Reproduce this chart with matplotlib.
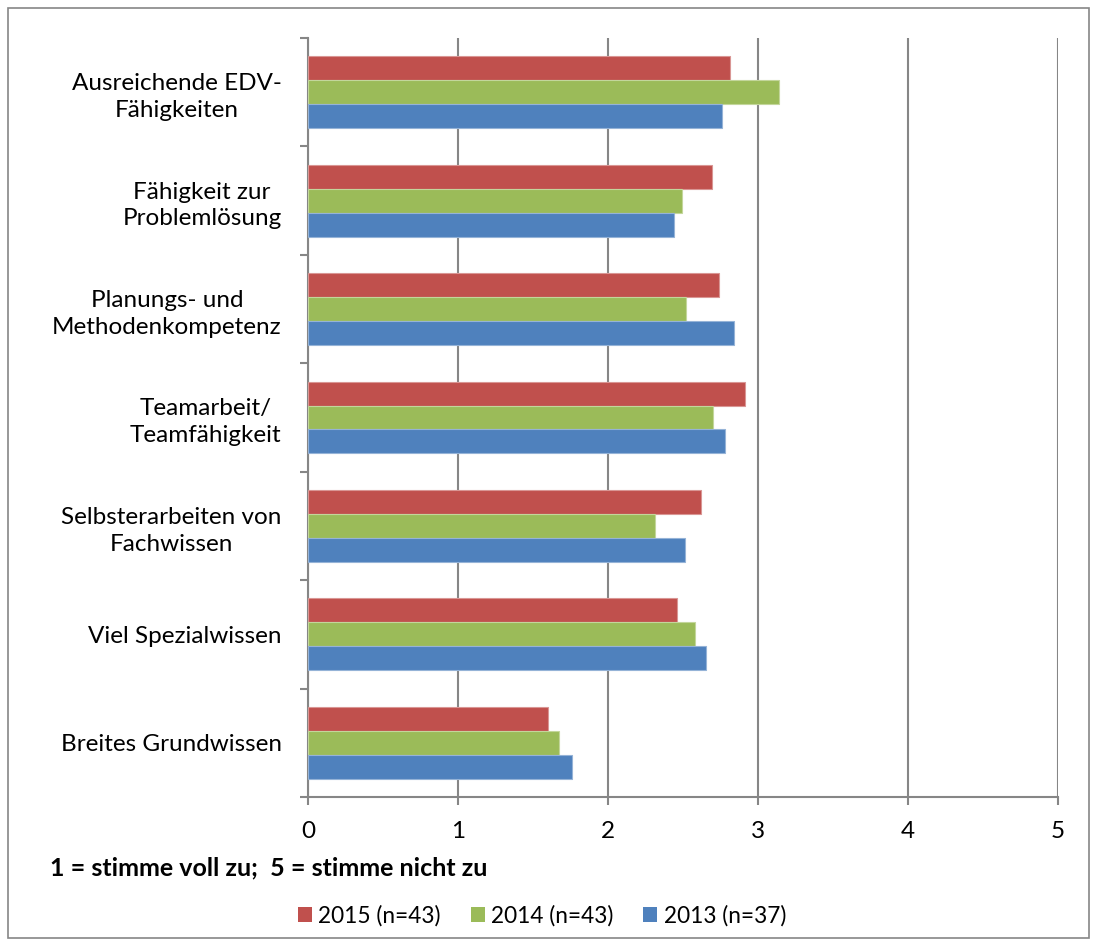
import matplotlib
matplotlib.use("Agg")
import matplotlib.pyplot as plt
from matplotlib.patches import Rectangle, Patch
import numpy as np

plt.rcParams['font.family'] = ['Lato', 'DejaVu Sans']

categories = ["Breites Grundwissen", "Viel Spezialwissen",
              "Selbsterarbeiten von\nFachwissen", "Teamarbeit/\nTeamfähigkeit",
              "Planungs- und\nMethodenkompetenz", "Fähigkeit zur\nProblemlösung",
              "Ausreichende EDV-\nFähigkeiten"]
values_2015 = [1.60, 2.46, 2.62, 2.91, 2.74, 2.69, 2.81]
values_2014 = [1.67, 2.58, 2.31, 2.70, 2.52, 2.49, 3.14]
values_2013 = [1.76, 2.65, 2.51, 2.78, 2.84, 2.44, 2.76]
series_labels = ["2015 (n=43)", "2014 (n=43)", "2013 (n=37)"]
colors = ["#C0504D", "#9BBB59", "#4F81BD"]
edge_colors = ["#D99694", "#C3D69B", "#95B3D7"]
x_ticks = [0, 1, 2, 3, 4, 5]
note = "1 = stimme voll zu;  5 = stimme nicht zu"

FS = 17.5

fig = plt.figure(figsize=(10.97, 9.46), dpi=100)
ax = fig.add_axes([308/1097, 149/946, 750/1097, 759/946])

y = np.arange(len(categories))
h = 0.221
series = [values_2015, values_2014, values_2013]
offsets = [h, 0, -h]
handles = []
for vals, off, c, ec, lab in zip(series, offsets, colors, edge_colors, series_labels):
    ax.barh(y + off, vals, height=h, color=c, edgecolor=ec, linewidth=0.8, zorder=3)
    handles.append(Patch(facecolor=c, edgecolor='none', label=lab))

grid_c = "#868686"
ax.set_xlim(0, 5)
ax.set_ylim(-0.5, len(categories) - 0.5)
ax.set_xticks(x_ticks)
ax.set_xticklabels([str(t) for t in x_ticks], fontsize=FS)
ax.xaxis.grid(True, color=grid_c, linewidth=1.5, zorder=0)
ax.set_axisbelow(True)

ax.set_yticks(y)
ax.set_yticklabels(categories, fontsize=FS, linespacing=1.33)
for lbl in ax.get_yticklabels():
    lbl.set_multialignment('center')
ax.set_yticks(np.arange(-0.5, len(categories)), minor=True)
ax.tick_params(axis='y', which='major', length=0, pad=19)
ax.tick_params(axis='y', which='minor', length=6, width=1.5, color=grid_c, direction='out')
ax.tick_params(axis='x', which='major', length=6, width=1.5, color=grid_c, direction='out', pad=11)

for s in ['top', 'right']:
    ax.spines[s].set_visible(False)
for s in ['left', 'bottom']:
    ax.spines[s].set_color(grid_c)
    ax.spines[s].set_linewidth(1.5)

fig.text(50/1097, 1 - 868/946, note, fontsize=18, fontweight='bold', ha='left', va='center')

fig.legend(handles=handles, loc='center', bbox_to_anchor=(542/1097, 1 - 916/946),
           ncol=3, frameon=False, fontsize=16.3, handlelength=0.62, handleheight=0.62,
           handletextpad=0.27, columnspacing=1.33)

fig.patches.append(Rectangle((8/1097, 8/946), 1081/1097, 930/946, transform=fig.transFigure,
                             fill=False, edgecolor=grid_c, linewidth=1.2))

fig.savefig("out.png", dpi=100)
